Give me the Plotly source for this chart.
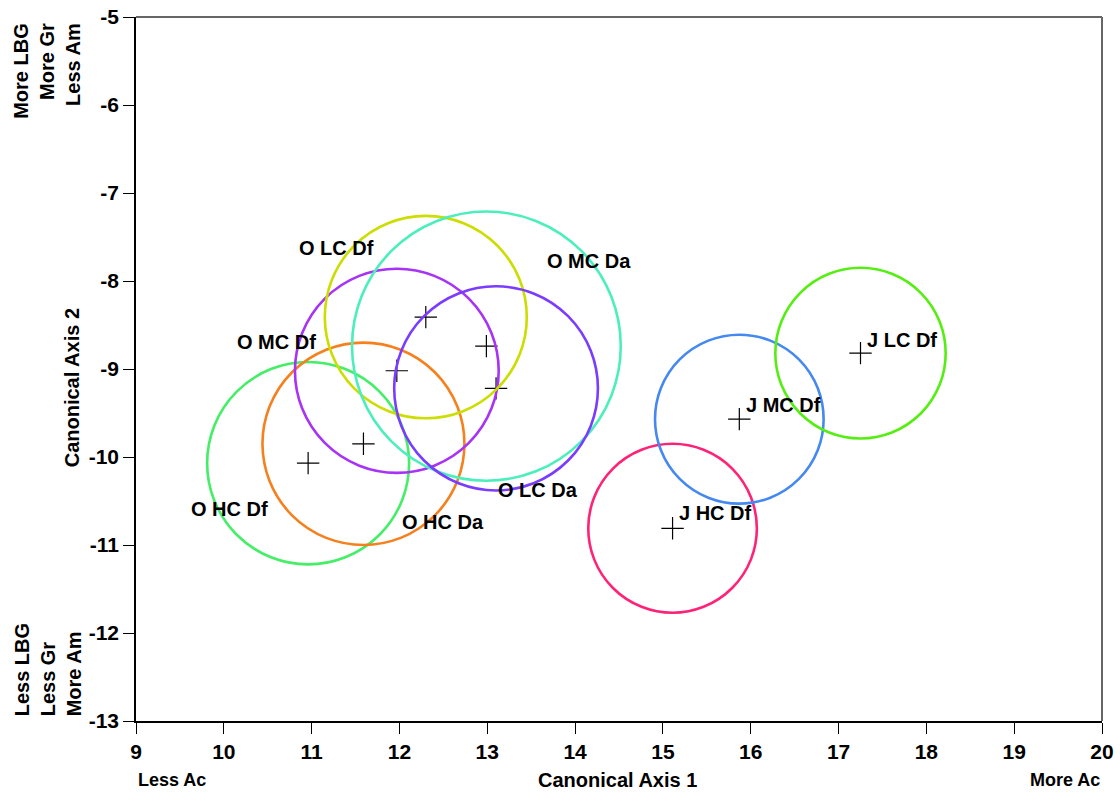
import plotly.graph_objects as go

# ---- data ----
groups = ["O HC Df", "O HC Da", "O MC Df", "O LC Df", "O MC Da", "O LC Da",
          "J HC Df", "J MC Df", "J LC Df"]
center_x = [10.96, 11.59, 11.97, 12.30, 12.99, 13.10, 15.11, 15.87, 17.25]
center_y = [-10.07, -9.85, -9.02, -8.41, -8.74, -9.22, -10.81, -9.57, -8.82]
radius = [1.15, 1.15, 1.16, 1.15, 1.53, 1.16, 0.96, 0.96, 0.97]
label_x = [10.07, 12.50, 10.60, 11.28, 14.16, 13.58, 15.60, 16.37, 17.72]
label_y = [-10.59, -10.74, -8.69, -7.63, -7.77, -10.37, -10.64, -9.41, -8.67]
colors = ["#44ee66", "#f5801e", "#a633f5", "#ccdd00", "#4cefbb", "#7a3cff",
          "#ff2277", "#4488f0", "#55ee11"]

x_ticks = list(range(9, 21))
x_tick_text = ["9", "10", "11", "12", "13", "14", "15", "16", "17", "18", "19", "20"]
y_ticks = list(range(-13, -4))
y_tick_text = ["-13", "-12", "-11", "-10", "-9", "-8", "-7", "-6", "-5"]

FONT = "Liberation Sans, Arial, sans-serif"

fig = go.Figure()

shapes = []
for cx, cy, r, c in zip(center_x, center_y, radius, colors):
    shapes.append(dict(type="circle", xref="x", yref="y",
                       x0=cx - r, x1=cx + r, y0=cy - r, y1=cy + r,
                       line=dict(color=c, width=2.6), layer="above"))
shapes.append(dict(type="line", xref="paper", yref="paper", x0=0, x1=1, y0=1, y1=1,
                   line=dict(color="#666666", width=2)))
shapes.append(dict(type="line", xref="paper", yref="paper", x0=1, x1=1, y0=0, y1=1,
                   line=dict(color="#666666", width=2)))

fig.add_trace(go.Scatter(
    x=center_x, y=center_y, mode="markers",
    marker=dict(symbol="cross-thin", size=16, line=dict(color="black", width=1.2),
                color="black"),
    hoverinfo="skip", showlegend=False))

def bold(s):
    return "<b>" + s + "</b>"

tf = dict(family=FONT, size=20, color="black")
tick_font = dict(family=FONT, size=21, color="black")

annotations = []
for lx, ly, t in zip(label_x, label_y, groups):
    annotations.append(dict(x=lx, y=ly, xref="x", yref="y", text=bold(t), showarrow=False,
                            font=tf, xanchor="center", yanchor="middle"))

W = 966.2
H = 704.0
annotations += [
    dict(x=-64/W, y=(720.7-388)/H, xref="paper", yref="paper", text=bold("Canonical Axis 2"),
         textangle=-90, showarrow=False, xanchor="center", yanchor="middle", font=tf),
    dict(x=(617-135.5)/W, y=-(780-720.7)/H, xref="paper", yref="paper",
         text=bold("Canonical Axis 1"), showarrow=False, xanchor="center", yanchor="middle",
         font=tf),
    dict(x=0, y=-(780-720.7)/H, xref="paper", yref="paper", text=bold("Less Ac"),
         showarrow=False, xanchor="left", yanchor="middle",
         font=dict(family=FONT, size=18, color="black")),
    dict(x=1, y=-(780-720.7)/H, xref="paper", yref="paper", text=bold("More Ac"),
         showarrow=False, xanchor="right", yanchor="middle",
         font=dict(family=FONT, size=18, color="black")),
    dict(x=(8-135.5)/W, y=(720.7-21)/H, xref="paper", yref="paper",
         text=bold("More LBG<br>More Gr<br>Less Am"), textangle=-90, align="right",
         showarrow=False, xanchor="left", yanchor="top", font=tf),
    dict(x=(8-135.5)/W, y=(720.7-718)/H, xref="paper", yref="paper",
         text=bold("Less LBG<br>Less Gr<br>More Am"), textangle=-90, align="left",
         showarrow=False, xanchor="left", yanchor="bottom", font=tf),
]

axis_common = dict(ticks="outside", ticklen=11, tickcolor="black", tickwidth=1.2,
                   showline=True, linecolor="black", linewidth=1.5, showgrid=False,
                   zeroline=False, automargin=False, tickfont=tick_font)

fig.update_layout(
    width=1120, height=793,
    margin=dict(l=135.5, r=18.3, t=16.7, b=72.3, autoexpand=False),
    paper_bgcolor="white", plot_bgcolor="white",
    shapes=shapes, annotations=annotations, showlegend=False,
    xaxis=dict(range=[9, 20], tickvals=x_ticks, ticktext=[bold(s) for s in x_tick_text],
               **axis_common),
    yaxis=dict(range=[-13, -5], tickvals=y_ticks, ticktext=[bold(s) for s in y_tick_text],
               **axis_common),
)

fig.write_html("out.html")
